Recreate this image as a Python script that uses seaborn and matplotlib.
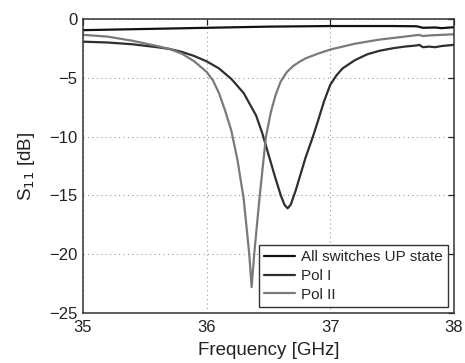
import numpy as np
import pandas as pd
import matplotlib
matplotlib.use("Agg")
import matplotlib.pyplot as plt
import seaborn as sns

series_names = ["All switches UP state", "Pol I", "Pol II"]

freq_up = [35.0, 35.5, 36.0, 36.5, 37.0, 37.5, 37.7, 37.75, 37.85, 37.9, 38.0]
s11_up = [-0.95, -0.85, -0.75, -0.65, -0.6, -0.6, -0.62, -0.75, -0.72, -0.78, -0.7]

freq_pol1 = [35.0, 35.2, 35.4, 35.6, 35.7, 35.8, 35.9, 36.0, 36.1, 36.2, 36.3, 36.4,
             36.45, 36.5, 36.55, 36.6, 36.63, 36.655, 36.68, 36.72, 36.8, 36.86,
             36.9, 36.95, 37.0, 37.05, 37.1, 37.2, 37.3, 37.4, 37.5, 37.6, 37.7,
             37.72, 37.75, 37.8, 37.85, 37.9, 38.0]
s11_pol1 = [-1.93, -2.0, -2.15, -2.4, -2.55, -2.8, -3.15, -3.6, -4.2, -5.1, -6.3, -8.2,
            -9.7, -11.5, -13.3, -15.0, -15.8, -16.1, -15.8, -14.6, -11.8, -10.0,
            -8.7, -7.0, -5.6, -4.8, -4.2, -3.5, -3.0, -2.7, -2.5, -2.35, -2.25,
            -2.2, -2.4, -2.35, -2.4, -2.3, -2.2]

freq_pol2 = [35.0, 35.2, 35.4, 35.6, 35.7, 35.8, 35.9, 36.0, 36.05, 36.1, 36.15, 36.2,
             36.25, 36.3, 36.345, 36.364, 36.385, 36.43, 36.48, 36.52, 36.56, 36.6,
             36.65, 36.7, 36.75, 36.8, 36.9, 37.0, 37.2, 37.4, 37.6, 37.72, 37.75,
             37.8, 37.9, 38.0]
s11_pol2 = [-1.35, -1.5, -1.85, -2.3, -2.55, -2.95, -3.6, -4.5, -5.2, -6.3, -7.8, -9.5,
            -12.0, -15.3, -20.0, -22.8, -20.0, -15.0, -10.0, -7.9, -6.4, -5.3,
            -4.5, -4.0, -3.65, -3.35, -2.95, -2.6, -2.1, -1.75, -1.5, -1.35, -1.45,
            -1.4, -1.35, -1.3]

x_ticks = [35, 36, 37, 38]
y_ticks = [0, -5, -10, -15, -20, -25]

df = pd.concat([
    pd.DataFrame({"freq": freq_up, "s11": s11_up, "series": series_names[0]}),
    pd.DataFrame({"freq": freq_pol1, "s11": s11_pol1, "series": series_names[1]}),
    pd.DataFrame({"freq": freq_pol2, "s11": s11_pol2, "series": series_names[2]}),
], ignore_index=True)

sns.set_style("white")
plt.rcParams['font.family'] = ['Liberation Sans', 'DejaVu Sans']

fig = plt.figure(figsize=(4.65, 3.63), dpi=100)
ax = fig.add_axes([0.1785, 0.1377, 0.7975, 0.81])

palette = {series_names[0]: "#111111", series_names[1]: "#2e2e2e", series_names[2]: "#7a7a7a"}
sns.lineplot(data=df, x="freq", y="s11", hue="series", hue_order=series_names,
             palette=palette, sort=False, estimator=None, linewidth=1.6, ax=ax)

ax.set_xlim(35, 38)
ax.set_ylim(-25, 0)
ax.set_xticks(x_ticks)
ax.set_yticks(y_ticks)
ax.set_xticklabels([str(t) for t in x_ticks])
ax.set_yticklabels(["0", "\u22125", "\u221210", "\u221215", "\u221220", "\u221225"])
ax.tick_params(direction="in", length=4, width=0.9, top=True, right=True,
               labelsize=12, colors="#222222", pad=4)
ax.tick_params(axis="x", pad=5)
ax.grid(True, linestyle=(0, (1, 3)), color="#999999", linewidth=0.8)
for sp in ax.spines.values():
    sp.set_visible(True)
    sp.set_color("#333333")
    sp.set_linewidth(1.1)

ax.set_xlabel("Frequency [GHz]", fontsize=13.5, labelpad=5, color="#222222")
ax.set_ylabel("S$_{11}$ [dB]", fontsize=13.5, labelpad=9, color="#222222")

leg = ax.legend(loc="lower right", fontsize=11, frameon=True, fancybox=False,
                handlelength=2.0, handletextpad=0.4, borderpad=0.35, labelspacing=0.3,
                borderaxespad=0.4)
leg.get_frame().set_edgecolor("#333333")
leg.get_frame().set_linewidth(1.0)
leg.get_frame().set_alpha(1)

fig.savefig("out.png", dpi=100)
